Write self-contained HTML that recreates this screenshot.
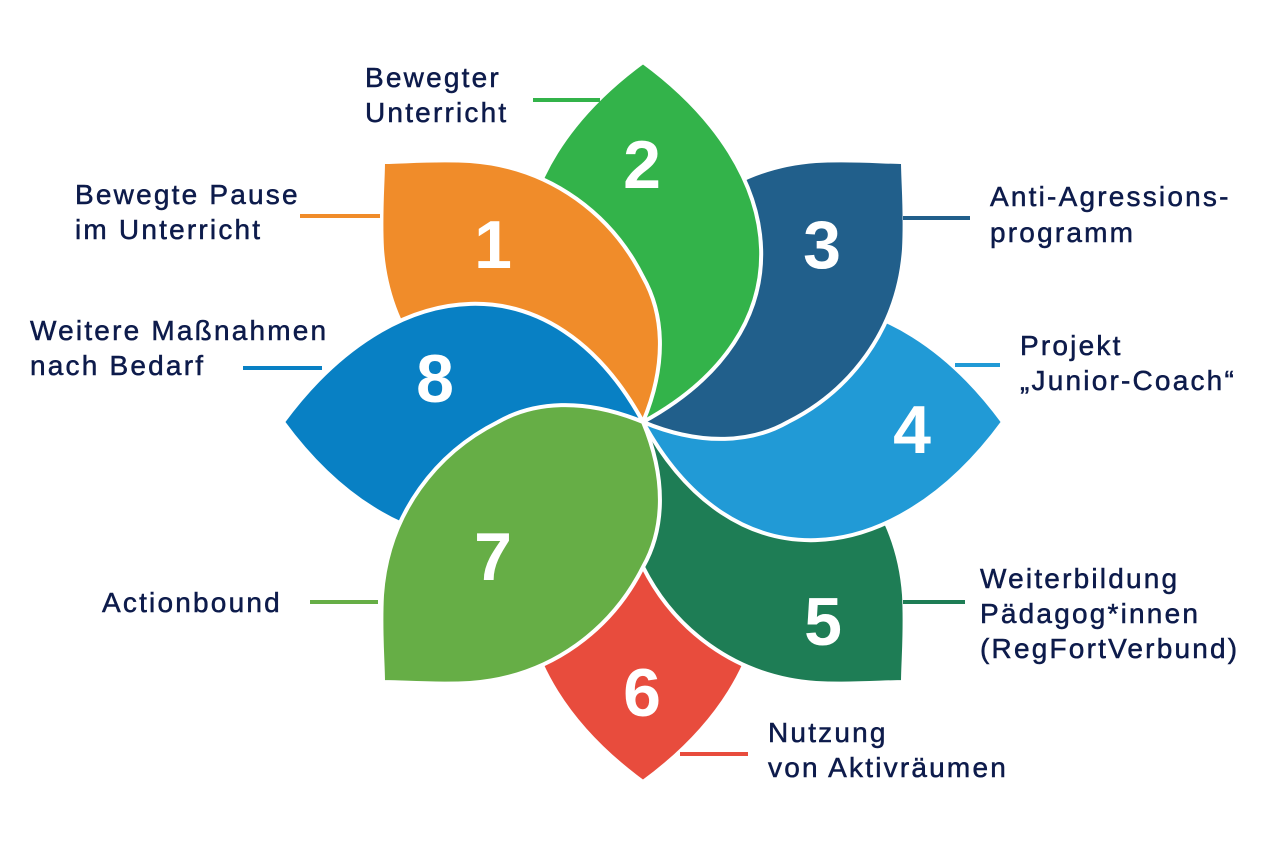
<!DOCTYPE html>
<html><head><meta charset="utf-8"><style>
body{margin:0;background:#fff;}
svg{display:block}
.t{font-family:"Liberation Sans",sans-serif;font-size:28px;fill:#0d1b4b;stroke:#0d1b4b;stroke-width:0.5px;letter-spacing:2.2px}
.n{font-family:"Liberation Sans",sans-serif;font-size:68px;font-weight:bold;fill:#fff;text-anchor:middle}
</style></head><body>
<svg width="1280" height="853" viewBox="0 0 1280 853" xmlns="http://www.w3.org/2000/svg">
<defs>
<path id="lens" d="M0 0 C165 -90 150 -250 0 -360 C-150 -250 -165 -90 0 0 Z"/>
<path id="diag" d="M0 0 C25 -60 20 -110 0 -145 C-30 -205 -90 -255 -173 -261 C-210 -263 -240 -260 -260 -260 C-260 -240 -263 -210 -261 -173 C-255 -90 -205 -30 -145 0 C-110 20 -60 25 0 0 Z"/>
</defs>
<g stroke-width="4" stroke="#fff" stroke-linejoin="round">
<g transform="translate(643,422)">
<use href="#lens" transform="rotate(180)" fill="#e84c3d"/>
<use href="#diag" transform="rotate(180)" fill="#1e7d55"/>
<use href="#lens" transform="rotate(90)" fill="#219ad6"/>
<use href="#diag" transform="rotate(90)" fill="#215f8b"/>
<use href="#lens" fill="#33b34a"/>
<use href="#diag" fill="#f08c2a"/>
<use href="#lens" transform="rotate(270)" fill="#0880c4"/>
<use href="#diag" transform="rotate(270)" fill="#66ae46"/>
</g>
</g>
<text x="493" y="268" class="n">1</text>
<text x="642" y="188" class="n">2</text>
<text x="822" y="268" class="n">3</text>
<text x="912" y="453" class="n">4</text>
<text x="823" y="645" class="n">5</text>
<text x="642" y="716" class="n">6</text>
<text x="493" y="580" class="n">7</text>
<text x="435" y="402" class="n">8</text>
<g stroke-width="4">
<line x1="533" y1="100" x2="600" y2="100" stroke="#33b34a"/>
<line x1="300" y1="216" x2="380" y2="216" stroke="#f08c2a"/>
<line x1="903" y1="218" x2="970" y2="218" stroke="#215f8b"/>
<line x1="955" y1="365" x2="1000" y2="365" stroke="#219ad6"/>
<line x1="903" y1="602" x2="965" y2="602" stroke="#1e7d55"/>
<line x1="680" y1="754" x2="748" y2="754" stroke="#e84c3d"/>
<line x1="310" y1="602" x2="378" y2="602" stroke="#66ae46"/>
<line x1="243" y1="368" x2="322" y2="368" stroke="#0880c4"/>
</g>
<text class="t" x="365" y="87">Bewegter</text>
<text class="t" x="365" y="122">Unterricht</text>
<text class="t" x="75" y="204">Bewegte Pause</text>
<text class="t" x="75" y="239">im Unterricht</text>
<text class="t" x="990" y="206">Anti-Agressions-</text>
<text class="t" x="990" y="242">programm</text>
<text class="t" x="1020" y="355">Projekt</text>
<text class="t" x="1020" y="390">„Junior-Coach“</text>
<text class="t" x="980" y="588">Weiterbildung</text>
<text class="t" x="980" y="623">Pädagog*innen</text>
<text class="t" x="980" y="658">(RegFortVerbund)</text>
<text class="t" x="768" y="742">Nutzung</text>
<text class="t" x="768" y="777">von Aktivräumen</text>
<text class="t" x="102" y="612">Actionbound</text>
<text class="t" x="30" y="340">Weitere Maßnahmen</text>
<text class="t" x="30" y="375">nach Bedarf</text>
</svg>
</body></html>
